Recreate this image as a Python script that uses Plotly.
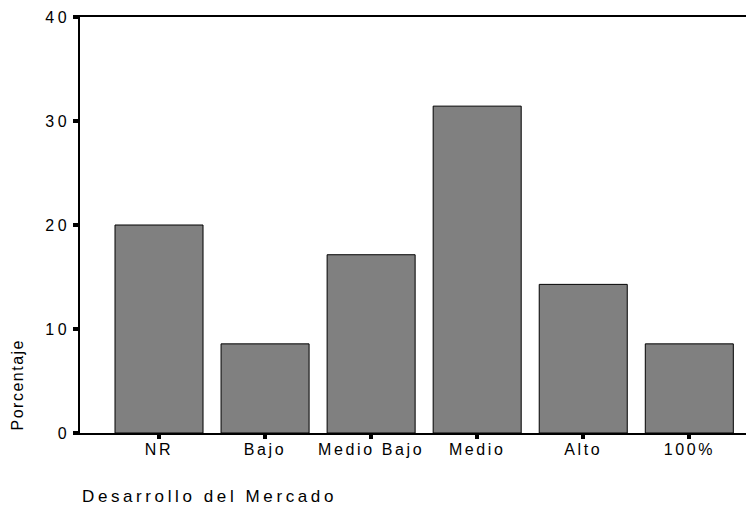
import plotly.graph_objects as go

categories = ["NR", "Bajo", "Medio Bajo", "Medio", "Alto", "100%"]
percentages = [20.0, 8.57, 17.14, 31.43, 14.29, 8.57]
y_ticks = [0, 10, 20, 30, 40]

# the page body adds an 8px offset, so the figure is drawn 8px smaller
W, H = 746, 498
ml, mr, mt, mb = 72, 0, 8.5, 72.5
pw, ph = W - ml - mr, H - mt - mb

FAM = "Liberation Sans, Arial, sans-serif"


def spaced(s, px):
    return '<span style="letter-spacing:%spx">%s</span>' % (px, s)


fig = go.Figure()
fig.add_trace(go.Bar(
    x=list(range(len(categories))),
    y=percentages,
    width=0.83,
    marker=dict(color="#808080", line=dict(color="#000000", width=1)),
    hoverinfo="skip",
))

fig.update_layout(
    width=W, height=H,
    margin=dict(l=ml, r=mr, t=mt, b=mb, pad=0),
    paper_bgcolor="white", plot_bgcolor="white",
    showlegend=False,
    font=dict(family=FAM, size=16, color="#000000"),
    xaxis=dict(
        range=[-0.745, 5.61],
        tickmode="array",
        tickvals=list(range(len(categories))),
        ticktext=[spaced(c, 2.6) for c in categories],
        ticks="outside", ticklen=4, tickwidth=4, tickcolor="#000000",
        ticklabelstandoff=-3,
        showline=True, linecolor="#000000", linewidth=1.5, mirror=True,
        showgrid=False, zeroline=False,
        tickfont=dict(family=FAM, size=16, color="#000000"),
    ),
    yaxis=dict(
        range=[0, 40],
        tickmode="array",
        tickvals=y_ticks,
        ticktext=[spaced(str(v), 3.5) for v in y_ticks],
        ticks="outside", ticklen=5, tickwidth=4, tickcolor="#000000",
        showline=True, linecolor="#000000", linewidth=1.5,
        showgrid=False, zeroline=False,
        tickfont=dict(family=FAM, size=16, color="#000000"),
    ),
)

fig.add_annotation(
    text=spaced("Porcentaje", 1.5), textangle=-90,
    xref="paper", yref="paper",
    x=(10 - ml) / pw, y=(ph + mt - 425) / ph,
    xanchor="center", yanchor="bottom", showarrow=False,
    font=dict(family=FAM, size=16, color="#000000"),
)
fig.add_annotation(
    text=spaced("Desarrollo del Mercado", 3.6),
    xref="paper", yref="paper",
    x=0, y=(ph + mt - 489) / ph,
    xanchor="left", yanchor="middle", showarrow=False,
    font=dict(family=FAM, size=17, color="#000000"),
)

fig.write_html("out.html")
